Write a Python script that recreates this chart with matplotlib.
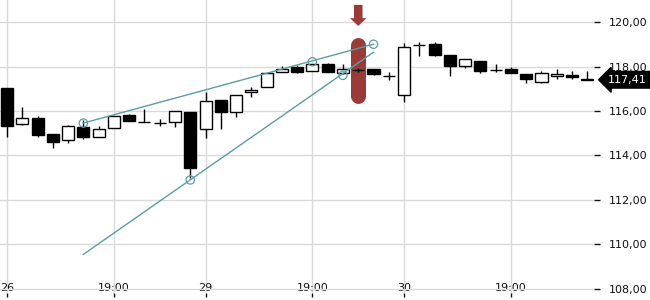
import numpy as np
import matplotlib
matplotlib.use("Agg")
import matplotlib.pyplot as plt
from matplotlib.transforms import blended_transform_factory

# hourly candles, index 0 = first bar of the 26th
opens = [117.04, 115.41, 115.69, 114.97, 114.71, 115.27, 114.83, 115.23, 115.82, 115.51,
         115.45, 115.50, 115.96, 115.18, 116.49, 115.95, 116.85, 117.07, 117.75, 117.99,
         117.80, 118.12, 117.70, 117.85, 117.88, 117.58, 116.71, 118.98, 119.01, 118.51,
         118.02, 118.24, 117.85, 117.90, 117.66, 117.30, 117.57, 117.62, 117.45]
highs = [117.04, 116.18, 115.78, 114.97, 115.39, 115.60, 115.33, 115.78, 115.87, 116.09,
         115.63, 116.00, 115.96, 116.88, 116.49, 116.71, 117.10, 117.70, 118.03, 118.08,
         118.10, 118.18, 118.12, 117.93, 117.88, 117.75, 119.05, 119.10, 119.10, 118.51,
         118.33, 118.24, 118.11, 118.00, 117.66, 117.79, 117.88, 117.79, 117.81]
lows = [114.83, 115.36, 114.82, 114.32, 114.58, 114.73, 114.83, 115.23, 115.57, 115.50,
        115.34, 115.27, 112.99, 114.80, 115.18, 115.72, 116.65, 117.07, 117.75, 117.73,
        117.80, 117.75, 117.65, 117.76, 117.61, 117.40, 116.42, 118.50, 118.48, 117.58,
        117.93, 117.70, 117.76, 117.70, 117.28, 117.25, 117.43, 117.46, 117.41]
closes = [115.34, 115.68, 114.94, 114.62, 115.33, 114.85, 115.21, 115.78, 115.57, 115.50,
          115.45, 116.00, 113.45, 116.44, 115.95, 116.71, 116.96, 117.70, 117.91, 117.77,
          118.10, 117.75, 117.88, 117.85, 117.67, 117.58, 118.90, 118.98, 118.54, 118.05,
          118.33, 117.79, 117.85, 117.70, 117.43, 117.70, 117.67, 117.52, 117.41]

tick_pos = [0, 7, 13, 20, 26, 33]
tick_labels = ["26", "19:00", "29", "19:00", "30", "19:00"]
y_ticks = [108, 110, 112, 114, 116, 118, 120]

# trend lines (start/end bar, price) and touch points
trend1_x = [5, 24]
trend1_y = [115.46, 119.01]
trend1_touch_x = [5, 20, 24]
trend1_touch_y = [115.46, 118.22, 119.01]
trend2_x = [5, 24]
trend2_y = [109.55, 118.65]
trend2_touch_x = [12, 22]
trend2_touch_y = [112.90, 117.61]

# sell signal
signal_bar = 23
signal_lo = 116.69
signal_hi = 118.97
arrow_top = 120.78
arrow_tip = 119.83

last_price = 117.41

teal = "#5a9ea6"
red = "#9b3b37"
grid_c = "#dadada"

fig = plt.figure(figsize=(6.5, 3), dpi=100)
ax = fig.add_axes([0, 7 / 300, 594 / 650, 293 / 300])

idx = np.arange(len(opens))
o = np.array(opens)
c = np.array(closes)
up = c > o
body_w = 0.79

# red signal pill + arrow
ax.plot([signal_bar, signal_bar], [signal_lo, signal_hi], color=red, lw=10.8,
        solid_capstyle="round", zorder=3)
head_base = arrow_top - (arrow_top - arrow_tip) * 0.63
ax.fill([signal_bar - 0.28, signal_bar + 0.28, signal_bar + 0.28, signal_bar + 0.54,
         signal_bar, signal_bar - 0.54, signal_bar - 0.28],
        [arrow_top, arrow_top, head_base, head_base, arrow_tip, head_base, head_base],
        color=red, lw=0, zorder=3)

# candles
ax.vlines(idx, lows, highs, color="black", lw=1.0, zorder=4)
heights = np.maximum(np.abs(c - o), 0.001)
bottoms = np.minimum(o, c)
ax.bar(idx, heights, bottom=bottoms, width=body_w,
       color=np.where(up, "white", "black"), edgecolor="black", linewidth=1.0, zorder=5)

# trend lines
ax.plot(trend1_x, trend1_y, color=teal, lw=1.0, zorder=6)
ax.plot(trend2_x, trend2_y, color=teal, lw=1.0, zorder=6)
ax.scatter(trend1_touch_x + trend2_touch_x, trend1_touch_y + trend2_touch_y, s=36,
           facecolors="none", edgecolors=teal, linewidths=0.9, zorder=7)

ax.set_xlim(-0.46, 38.44)
ax.set_ylim(107.81, 121.0)

for s in ax.spines.values():
    s.set_visible(False)

ax.set_xticks(tick_pos)
ax.set_xticklabels(tick_labels)
ax.set_yticks(y_ticks)
ax.set_yticklabels([f"{v:.2f}".replace(".", ",") for v in y_ticks])
ax.yaxis.tick_right()
ax.tick_params(axis="x", direction="out", length=3, width=1, pad=-10,
               labelsize=8, colors="#111111")
ax.tick_params(axis="y", direction="out", length=4, width=1, pad=7,
               labelsize=8, colors="#111111")
ax.grid(True, color=grid_c, lw=1.0, zorder=0)
ax.set_axisbelow(True)

trans = blended_transform_factory(ax.transAxes, ax.transData)
ax.annotate(f"{last_price:.2f}".replace(".", ","), xy=(1.0, last_price), xycoords=trans,
            xytext=(10, 0), textcoords="offset points", va="center", ha="left",
            fontsize=8, color="white",
            bbox=dict(boxstyle="larrow,pad=0.3", fc="black", ec="black"),
            annotation_clip=False, zorder=10)

fig.savefig("out.png", dpi=100)
